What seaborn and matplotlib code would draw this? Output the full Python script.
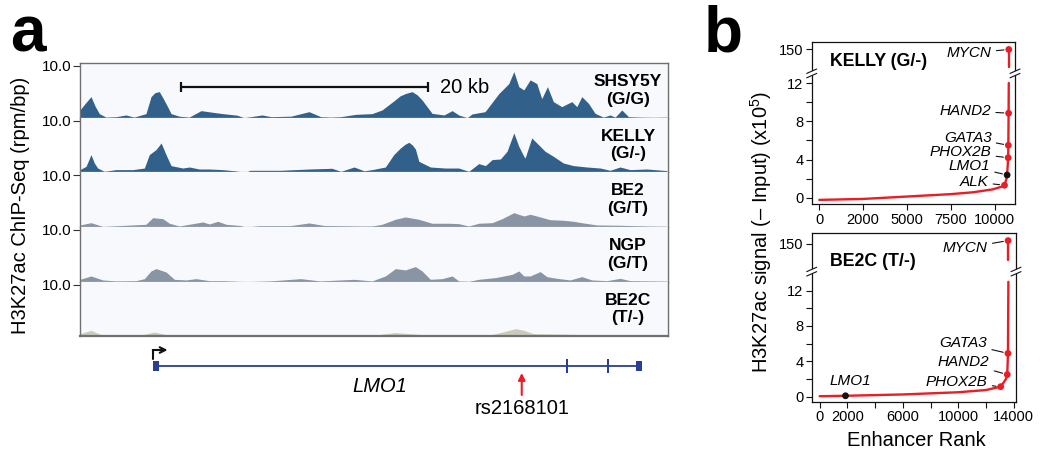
"""
Two-panel figure: H3K27ac ChIP-seq tracks over LMO1 (a) and
super-enhancer rank plots for KELLY and BE2C (b).
"""
import numpy as np
import matplotlib
matplotlib.use("Agg")
import matplotlib.pyplot as plt
import seaborn as sns

W, H = 1040, 450

# ---- panel a: coverage tracks (x in kb from left edge, y in rpm/bp)
TRACK_NAMES = ["SHSY5Y\n(G/G)", "KELLY\n(G/-)", "BE2\n(G/T)", "NGP\n(G/T)", "BE2C\n(T/-)"]
TRACK_COLORS = ["#31608b", "#31608b", "#8994a4", "#8994a4", "#cbcbbb"]
TRACK_SPAN_KB = 47.6

shsy5y_kb = [0.0, 0.40, 0.89, 1.21, 1.56, 2.11, 2.91, 3.72, 4.37, 5.34, 5.75, 6.07, 6.42, 6.80,
             7.13, 7.37, 8.02, 8.83, 9.80, 10.77, 11.55, 12.71, 13.28, 14.74, 15.47, 17.09,
             18.54, 19.49, 20.30, 21.11, 22.32, 23.64, 24.45, 25.51, 25.90, 26.32, 26.88, 27.30,
             27.69, 28.50, 29.47, 30.12, 30.66, 31.34, 31.74, 32.79, 33.90, 34.71, 35.12, 35.52,
             35.93, 36.44, 36.98, 37.38, 37.84, 38.32, 39.00, 39.81, 40.22, 40.62, 41.16, 41.70,
             42.37, 42.91, 43.32, 43.86, 44.40, 45.34, 46.42, 47.51]
shsy5y_val = [1.49, 2.70, 4.07, 2.30, 0.78, 0.10, 0.19, 0.52, 0.10, 0.78, 4.07, 4.85, 5.04, 3.43,
              1.94, 0.78, 0.29, 0.10, 1.36, 1.03, 0.78, 0.48, 0.00, 0.52, 0.19, 0.29,
              1.16, 0.19, 0.10, 0.19, 0.64, 0.78, 1.49, 3.43, 4.20, 4.65, 5.04, 4.40,
              3.43, 0.83, 0.52, 1.36, 0.52, 0.00, 0.72, 1.16, 4.65, 6.59, 8.91, 6.00,
              5.37, 7.31, 6.59, 3.68, 6.00, 3.10, 2.13, 3.10, 2.13, 4.07, 2.77, 0.83,
              0.10, 0.52, 0.10, 1.49, 0.19, 0.10, 0.06, 0.10]

kelly_kb = [0.0, 0.49, 0.89, 1.16, 1.43, 1.97, 2.91, 4.27, 5.21, 5.61, 6.15, 6.35, 6.56, 6.76,
            6.96, 7.37, 8.32, 8.85, 9.66, 10.47, 11.55, 12.55, 13.42, 13.77, 16.19, 18.54,
            20.40, 21.11, 22.19, 23.00, 23.64, 24.72, 25.40, 25.94, 26.30, 26.62, 26.90, 27.15,
            27.43, 28.36, 29.58, 30.66, 31.47, 32.28, 32.82, 33.36, 34.03, 34.57, 35.12, 35.52,
            35.93, 36.03, 36.57, 37.11, 37.65, 38.32, 39.13, 39.94, 41.03, 42.11, 42.91, 43.72,
            44.53, 45.89, 47.51]
kelly_val = [0.52, 1.16, 3.43, 1.80, 0.83, 0.19, 0.52, 0.52, 0.83, 3.43, 4.40, 5.00, 5.68, 4.60,
             3.43, 1.30, 0.83, 1.03, 0.64, 0.64, 0.52, 0.29, 0.00, 0.39, 0.39, 0.64,
             0.78, 0.19, 1.03, 0.29, 0.52, 1.03, 3.43, 4.71, 5.40, 5.81, 5.30, 4.52,
             2.13, 1.03, 0.83, 0.83, 0.19, 1.69, 1.30, 2.46, 2.58, 4.07, 7.62, 5.04,
             3.10, 2.77, 6.65, 5.37, 4.07, 3.10, 1.80, 1.30, 1.03, 0.83, 0.39, 1.03,
             0.52, 0.64, 0.33]

be2_kb = [0.0, 0.89, 1.86, 3.72, 5.34, 5.89, 6.70, 7.23, 8.04, 9.94, 10.47, 11.15, 11.82, 12.96,
          13.42, 14.57, 17.00, 18.54, 19.76, 22.67, 23.64, 24.45, 25.53, 26.34, 27.42, 28.50,
          29.85, 30.66, 31.47, 32.28, 33.36, 34.17, 35.12, 35.93, 36.44, 37.25, 38.06, 39.13,
          39.94, 40.75, 41.84, 43.72, 45.89, 47.51]
be2_val = [0.39, 0.83, 0.10, 0.33, 0.52, 1.80, 1.61, 0.72, 0.19, 0.97, 0.58, 1.10, 0.52, 0.29,
           0.00, 0.25, 0.25, 0.78, 0.29, 0.19, 0.19, 0.52, 1.49, 1.94, 1.49, 0.72,
           0.72, 0.64, 0.19, 0.72, 0.83, 1.61, 2.77, 2.13, 2.46, 1.94, 1.41, 1.30,
           1.10, 0.78, 0.39, 0.33, 0.19, 0.14]

ngp_kb = [0.0, 0.89, 1.84, 2.91, 4.53, 5.21, 5.75, 6.15, 6.96, 7.64, 8.58, 9.39, 10.47, 11.55,
          13.42, 15.38, 17.87, 19.43, 22.19, 23.64, 24.72, 25.53, 26.34, 27.15, 27.69, 28.36,
          29.31, 30.12, 30.66, 31.47, 32.28, 33.63, 34.98, 35.52, 35.93, 36.44, 37.25, 37.79,
          38.60, 39.68, 40.62, 41.43, 42.65, 43.72, 44.53, 47.51]
ngp_val = [0.45, 1.10, 0.33, 0.14, 0.19, 0.58, 2.07, 2.52, 1.88, 0.45, 0.33, 0.58, 0.19, 0.19,
           0.00, 0.14, 0.58, 0.14, 0.45, 0.14, 1.10, 2.52, 2.27, 2.91, 2.07, 0.45,
           0.58, 1.10, 0.14, 0.06, 0.45, 0.78, 1.41, 2.07, 1.10, 1.10, 1.94, 0.97,
           0.64, 0.33, 0.97, 0.33, 0.19, 0.64, 0.19, 0.10]

be2c_kb = [0.0, 0.89, 1.70, 2.91, 5.08, 6.02, 6.96, 9.72, 14.57, 20.57, 23.64, 25.53, 27.69,
           30.77, 33.20, 34.44, 35.25, 35.93, 36.70, 38.32, 41.03, 43.72, 47.51]
be2c_val = [0.52, 1.16, 0.33, 0.10, 0.33, 0.83, 0.33, 0.19, 0.14, 0.33, 0.19, 0.72, 0.33,
            0.23, 0.25, 0.97, 1.49, 1.16, 0.52, 0.45, 0.33, 0.25, 0.19]

# gene model (kb)
GENE_NAME = "LMO1"
GENE_START_KB, GENE_END_KB = 6.07, 45.34
exon_start_kb = [5.94, 39.35, 42.67, 45.02]
exon_end_kb = [6.42, 39.50, 42.83, 45.51]
SNP_NAME = "rs2168101"
SNP_KB = 35.76
SCALE_BAR_KB = 20

# ---- panel b: ranked enhancer signal (x1e5)
kelly_rank = [0, 2500, 5000, 7500, 8800, 9900, 10450, 10570, 10680, 10720, 10780, 10790, 10805, 10815]
kelly_signal = [-0.2, -0.1, 0.15, 0.4, 0.6, 0.9, 1.2, 1.33, 2.0, 2.4, 4.2, 5.5, 8.85, 12.0]
kelly_top_rank = [10815, 10815]
kelly_top_signal = [141, 150]
kelly_genes = ["ALK", "LMO1", "PHOX2B", "GATA3", "HAND2", "MYCN"]
kelly_gene_rank = [10570, 10720, 10780, 10790, 10805, 10815]
kelly_gene_signal = [1.33, 2.4, 4.2, 5.5, 8.85, 150]

be2c_rank = [0, 1866, 6000, 10000, 12000, 13065, 13450, 13540, 13590, 13620]
be2c_signal = [0.05, 0.1, 0.25, 0.5, 0.75, 1.13, 2.0, 2.5, 4.9, 13.0]
be2c_top_rank = [13600, 13600]
be2c_top_signal = [142, 151.6]
be2c_genes = ["LMO1", "PHOX2B", "HAND2", "GATA3", "MYCN"]
be2c_gene_rank = [1866, 13065, 13540, 13590, 13600]
be2c_gene_signal = [0.1, 1.13, 2.5, 4.9, 151.6]

# label offsets (points) from each marker; None = centred label with no leader
KELLY_LABEL_OFFSETS = [(-11.5, 2.4), (-12.2, 6.3), (-12, 4.1), (-12, 5.5), (-12.5, 1.7), (-12.2, -2.7)]
BE2C_LABEL_OFFSETS = [None, (-9.4, 3.4), (-12.7, 8.9), (-14.9, 7.4), (-14.6, -5.3)]

RED = "#ec1c24"
DARK = "#111111"


def box(left, top, right, bottom):
    return [left / W, 1 - bottom / H, (right - left) / W, (bottom - top) / H]


def broken_scale(lo, hi, gap, k):
    # identity below lo, lo..hi squeezed into `gap`, slope k above hi
    ys = [-1000.0, lo, hi, 1000.0]
    ts = [-1000.0, lo, lo + gap, lo + gap + (1000.0 - hi) * k]
    return (lambda y: np.interp(y, ys, ts)), (lambda t: np.interp(t, ts, ys))


def draw_break(ax, y_break):
    yb = ax.transAxes.inverted().transform(ax.transData.transform((0, y_break)))[1]
    pos = ax.get_position()
    dx = 5 / (pos.width * W)
    dy = 2.2 / (pos.height * H)
    g = 2.2 / (pos.height * H)
    for x0 in (0, 1):
        ax.fill([x0 - dx, x0 + dx, x0 + dx, x0 - dx],
                [yb - g - dy, yb - g + dy, yb + g + dy, yb + g - dy],
                color="white", transform=ax.transAxes, clip_on=False, zorder=5, lw=0)
        for off in (-g, g):
            ax.plot([x0 - dx, x0 + dx], [yb + off - dy, yb + off + dy], color=DARK, lw=0.8,
                    transform=ax.transAxes, clip_on=False, zorder=6)


sns.set_style("ticks")
plt.rcParams["font.family"] = ["Liberation Sans", "DejaVu Sans"]
plt.rcParams["mathtext.fontset"] = "custom"
plt.rcParams["mathtext.rm"] = "Liberation Sans"
for key in ("text.color", "axes.labelcolor", "xtick.color", "ytick.color"):
    plt.rcParams[key] = "black"

fig = plt.figure(figsize=(W / 100, H / 100), dpi=100)

# ---------------- panel a ----------------
tracks = [(shsy5y_kb, shsy5y_val), (kelly_kb, kelly_val), (be2_kb, be2_val),
          (ngp_kb, ngp_val), (be2c_kb, be2c_val)]
t_top, t_bot, t_left, t_right = 63, 336.3, 80, 668
th = (t_bot - t_top) / len(tracks)
track_axes = []
for i, ((kb, val), name, col) in enumerate(zip(tracks, TRACK_NAMES, TRACK_COLORS)):
    ax = fig.add_axes(box(t_left, t_top + i * th, t_right, t_top + (i + 1) * th))
    ax.set_facecolor("#f7f9fc")
    ax.fill_between(kb, 0, val, color=col, lw=0)
    ax.set_xlim(0, TRACK_SPAN_KB)
    ax.set_ylim(0, 10.58)
    ax.set_xticks([])
    ax.set_yticks([10.0])
    ax.set_yticklabels(["10.0"], fontsize=11)
    ax.tick_params(axis="y", length=5, width=0.8, color="#333333", pad=1)
    for s in ax.spines.values():
        s.set_color("#707070")
        s.set_linewidth(1.0)
    if i > 0:
        ax.spines["top"].set_visible(False)
    if i < len(tracks) - 1:
        ax.spines["bottom"].set_color("#b9bec6")
    else:
        ax.spines["bottom"].set_linewidth(1.6)
    ax.text(0.932, 0.5, name, transform=ax.transAxes, ha="center", va="center",
            fontsize=12.5, fontweight="bold", linespacing=1.2)
    track_axes.append(ax)

# scale bar in the first track
ax0 = track_axes[0]
sb_x0 = 8.18
sb_y = 5.87
ax0.plot([sb_x0, sb_x0 + SCALE_BAR_KB], [sb_y, sb_y], color=DARK, lw=1.6)
ax0.vlines([sb_x0, sb_x0 + SCALE_BAR_KB], sb_y - 1.0, sb_y + 1.0, color=DARK, lw=1.6)
ax0.text(sb_x0 + SCALE_BAR_KB + 0.97, sb_y, f"{SCALE_BAR_KB} kb", fontsize=14.5,
         va="center", ha="left")

fig.text(20.5 / W, 1 - 205 / H, "H3K27ac ChIP-Seq (rpm/bp)", rotation=90,
         ha="center", va="center", fontsize=14.5)

# gene model
axg = fig.add_axes(box(t_left, 338, t_right, 420))
axg.set_xlim(0, TRACK_SPAN_KB)
axg.set_ylim(82, 0)
axg.axis("off")
GENE_COLOR = "#2a3d97"
axg.plot([GENE_START_KB, GENE_END_KB], [28, 28], color=GENE_COLOR, lw=1.3)
for k, (s, e) in enumerate(zip(exon_start_kb, exon_end_kb)):
    h = 5 if k in (0, len(exon_start_kb) - 1) else 7
    axg.fill_between([s, e], 28 - h, 28 + h, color=GENE_COLOR, lw=0)
tss = exon_start_kb[0]
axg.plot([tss, tss], [21, 12], color=DARK, lw=1.5)
axg.annotate("", xy=(tss + 1.15, 12), xytext=(tss - 0.05, 12),
             arrowprops=dict(arrowstyle="->", lw=1.5, color=DARK, shrinkA=0, shrinkB=0,
                             mutation_scale=10))
axg.text(24.3, 48.7, GENE_NAME, style="italic", fontsize=14.5, ha="center", va="center")
axg.annotate("", xy=(SNP_KB, 35), xytext=(SNP_KB, 57),
             arrowprops=dict(arrowstyle="-|>", lw=1.5, color=RED, shrinkA=0, shrinkB=0,
                             mutation_scale=10))
axg.text(SNP_KB, 70, SNP_NAME, fontsize=14.5, ha="center", va="center")

# ---------------- panel b ----------------
panels = [
    dict(rect=box(811.7, 42, 1015, 204.3), title="KELLY (G/-)", title_y=0.877,
         rank=kelly_rank, sig=kelly_signal, top_rank=kelly_top_rank, top_sig=kelly_top_signal,
         genes=kelly_genes, g_rank=kelly_gene_rank, g_sig=kelly_gene_signal,
         offsets=KELLY_LABEL_OFFSETS, scale=(12.7, 139, 0.6, 0.2), ylim=(-0.66, 153.9),
         xlim=(-433, 11170), xticks=[0, 2500, 5000, 7500, 10000],
         xlabels=["0", "2000", "5000", "7500", "10000"]),
    dict(rect=box(811.7, 233, 1016, 401.7), title="BE2C (T/-)", title_y=0.83,
         rank=be2c_rank, sig=be2c_signal, top_rank=be2c_top_rank, top_sig=be2c_top_signal,
         genes=be2c_genes, g_rank=be2c_gene_rank, g_sig=be2c_gene_signal,
         offsets=BE2C_LABEL_OFFSETS, scale=(13.8, 138, 0.7, 0.2325), ylim=(-0.57, 155.3),
         xlim=(-574, 14170), xticks=list(range(0, 14001, 2000)),
         xlabels=["0", "2000", "", "6000", "", "10000", "", "14000"]),
]

for p in panels:
    ax = fig.add_axes(p["rect"])
    fwd, inv = broken_scale(*p["scale"])
    ax.set_yscale("function", functions=(fwd, inv))
    sns.lineplot(x=p["rank"], y=p["sig"], ax=ax, color=RED, lw=1.7,
                 estimator=None, sort=False)
    sns.lineplot(x=p["top_rank"], y=p["top_sig"], ax=ax, color=RED, lw=1.7,
                 estimator=None, sort=False)
    pal = {g: (DARK if g == "LMO1" else RED) for g in p["genes"]}
    sns.scatterplot(x=p["g_rank"], y=p["g_sig"], hue=p["genes"], palette=pal, ax=ax,
                    s=24, edgecolor="none", legend=False, zorder=4)
    ax.set_xlim(*p["xlim"])
    ax.set_ylim(*p["ylim"])
    ax.set_yticks([0, 4, 8, 12, 150])
    ax.set_yticklabels(["0", "4", "8", "12", "150"])
    ax.set_yticks([2, 6, 10], minor=True)
    ax.set_xticks(p["xticks"])
    ax.set_xticklabels(p["xlabels"])
    ax.tick_params(which="both", labelsize=10.5, length=4, width=0.8, color=DARK, pad=2)
    for s in ax.spines.values():
        s.set_visible(True)
        s.set_color(DARK)
        s.set_linewidth(0.9)
    for g, r, v, off in zip(p["genes"], p["g_rank"], p["g_sig"], p["offsets"]):
        if off is None:
            ax.annotate(g, xy=(r, v), xytext=(3.6, 10.6), textcoords="offset points",
                        ha="center", va="center", style="italic", fontsize=11)
        else:
            ax.annotate(g, xy=(r, v), xytext=off, textcoords="offset points",
                        ha="right", va="center", style="italic", fontsize=11,
                        arrowprops=dict(arrowstyle="-", lw=0.8, color=DARK,
                                        shrinkA=1.0, shrinkB=3.5))
    ax.text(0.09, p["title_y"], p["title"], transform=ax.transAxes, ha="left",
            va="center", fontsize=12.8, fontweight="bold")
    draw_break(ax, 76)

fig.text(761 / W, 1 - 232 / H, "H3K27ac signal (\u2013 Input) (x10$^{5}$)", rotation=90,
         ha="center", va="center", fontsize=14.5)
fig.text(916 / W, 1 - 441 / H, "Enhancer Rank", ha="center", va="center", fontsize=14.5)

# panel letters
fig.text(10 / W, 1 - 52 / H, "a", fontsize=46, fontweight="bold", va="baseline")
fig.text(704 / W, 1 - 52 / H, "b", fontsize=46, fontweight="bold", va="baseline")

fig.savefig("out.png", dpi=100)
